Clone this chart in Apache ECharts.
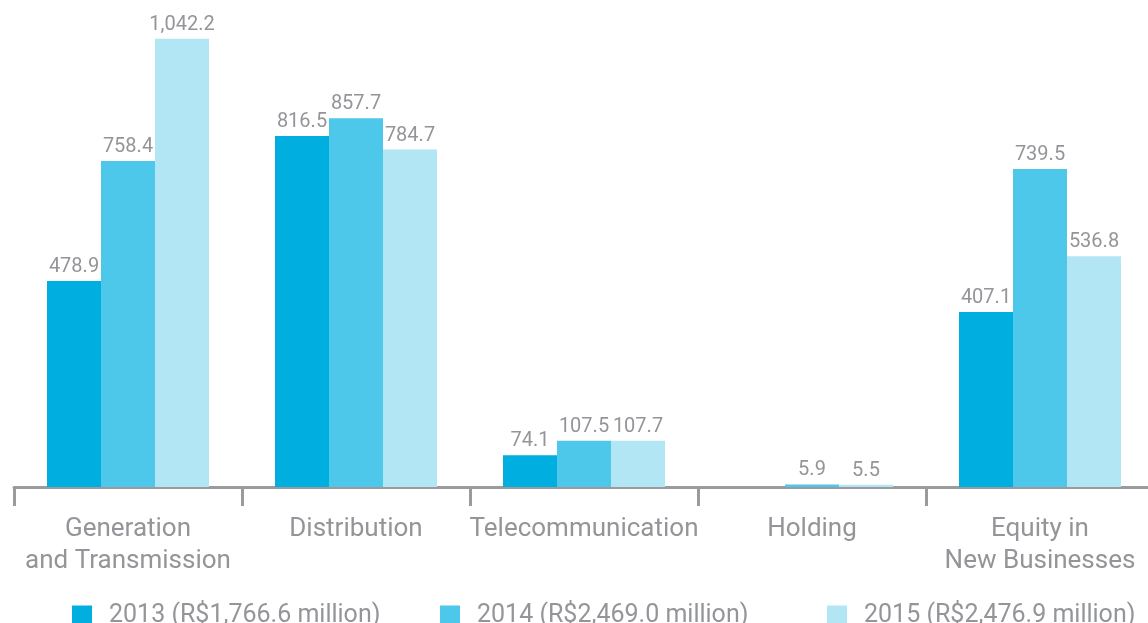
<!DOCTYPE html>
<html>
<head>
<meta charset="utf-8">
<script src="https://cdn.jsdelivr.net/npm/echarts@6/dist/echarts.min.js"></script>
<style>
html,body{margin:0;padding:0;background:#fff;overflow:hidden;width:1148px;height:623px;}
#chart{width:1160px;height:623px;}
</style>
</head>
<body>
<div id="chart"></div>
<script>
const categories = ['Generation\nand Transmission', 'Distribution', 'Telecommunication', 'Holding', 'Equity in\nNew Businesses'];
const seriesNames = ['2013 (R$1,766.6 million)', '2014 (R$2,469.0 million)', '2015 (R$2,476.9 million)'];
const values2013 = [478.9, 816.5, 74.1, null, 407.1];
const values2014 = [758.4, 857.7, 107.5, 5.9, 739.5];
const values2015 = [1042.2, 784.7, 107.7, 5.5, 536.8];

const colors = ['#00AEDF', '#4DC8EA', '#B3E6F4'];
const textGray = '#939598';
const fontFam = 'Roboto, "Liberation Sans", Arial, sans-serif';

function fmt(v) {
  return Number(v).toLocaleString('en-US', {minimumFractionDigits: 1, maximumFractionDigits: 1});
}

const chart = echarts.init(document.getElementById('chart'), null, {renderer: 'canvas'});
const allValues = [values2013, values2014, values2015];

const series = allValues.map((vals, i) => ({
  name: seriesNames[i],
  type: 'bar',
  data: vals,
  barWidth: 54,
  barGap: '0%',
  itemStyle: {color: colors[i]},
  label: {
    show: true,
    position: 'top',
    distance: 4,
    color: textGray,
    fontSize: 20,
    fontFamily: fontFam,
    fontWeight: 400,
    formatter: p => (p.value == null ? '' : fmt(p.value))
  },
  emphasis: {disabled: true}
}));

const legendLefts = [72, 440, 827];
const legends = seriesNames.map((n, i) => ({
  data: [n],
  left: legendLefts[i],
  top: 603,
  padding: 0,
  itemWidth: 20,
  itemHeight: 20,
  itemGap: 0,
  icon: 'rect',
  selectedMode: false,
  textStyle: {color: textGray, fontSize: 25, fontFamily: fontFam, fontWeight: 400, padding: [0, 0, 0, 12]}
}));

chart.setOption({
  animation: false,
  color: colors,
  legend: legends,
  grid: {left: 14, right: 6, top: 14, bottom: 136, containLabel: false},
  xAxis: {
    type: 'category',
    data: categories,
    boundaryGap: true,
    axisLine: {show: true, lineStyle: {color: '#9B9B9E', width: 3}},
    axisTick: {show: true, alignWithLabel: false, length: 19, lineStyle: {color: '#9B9B9E', width: 3}},
    axisLabel: {
      color: textGray,
      fontSize: 26,
      lineHeight: 32,
      fontFamily: fontFam,
      fontWeight: 400,
      margin: 26,
      interval: 0
    }
  },
  yAxis: {
    type: 'value',
    min: 0,
    max: 1100,
    show: false,
    splitLine: {show: false}
  },
  series: series
});
</script>
</body>
</html>
